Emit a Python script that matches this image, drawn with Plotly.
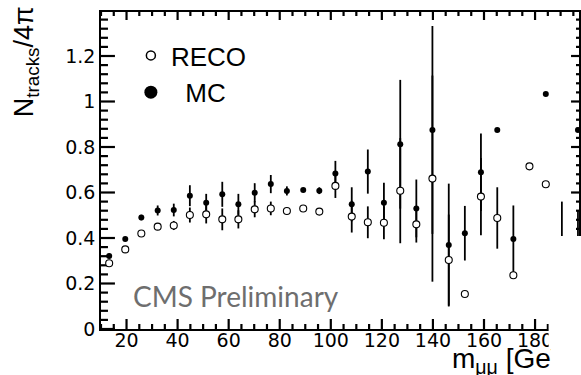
import plotly.graph_objects as go

# ---- data ----
mass = [13.2, 19.5, 25.8, 32.2, 38.5, 44.8, 51.2, 57.5, 63.8, 70.2,
        76.5, 82.8, 89.2, 95.5, 101.8, 108.2, 114.5, 120.8, 127.2, 133.5,
        139.8, 146.2, 152.5, 158.8, 165.2, 171.5, 177.8, 184.2, 190.5, 196.8]

reco = [0.289, 0.350, 0.420, 0.450, 0.455, 0.501, 0.504, 0.482, 0.482, 0.526,
        0.530, 0.519, 0.530, 0.516, 0.629, 0.494, 0.469, 0.467, 0.608, 0.460,
        0.661, 0.303, 0.154, 0.582, 0.488, 0.236, 0.715, 0.636, 0.350, 0.300]
reco_err = [0.008, 0.008, 0.010, 0.015, 0.020, 0.033, 0.040, 0.048, 0.040, 0.035,
            0.030, 0.015, 0.005, 0.012, 0.053, 0.070, 0.070, 0.073, 0.231, 0.080,
            0.453, 0.200, 0.0, 0.170, 0.135, 0.0, 0.0, 0.0, 0.210, 0.220]

mc = [0.321, 0.396, 0.490, 0.521, 0.523, 0.586, 0.555, 0.592, 0.548, 0.599,
      0.637, 0.607, 0.611, 0.608, 0.684, 0.548, 0.692, 0.555, 0.812, 0.530,
      0.875, 0.369, 0.421, 0.689, 0.875, 0.396, None, 1.033, 0.380, 0.875]
mc_err = [0.010, 0.008, 0.012, 0.022, 0.028, 0.046, 0.039, 0.055, 0.046, 0.042,
          0.040, 0.020, 0.008, 0.015, 0.055, 0.075, 0.097, 0.088, 0.283, 0.127,
          0.457, 0.270, 0.120, 0.170, 0.0, 0.147, 0.0, 0.0, 0.0, 0.0]

x_tick_step = 20      # labelled ticks 20 ... 180
x_minor_step = 5
y_tick_step = 0.2     # labelled ticks 0 ... 1.2
y_minor_step = 0.04

x_title = "m<sub>μμ</sub> [GeV]"
y_title = "N<sub>tracks</sub>/4π"
label = "CMS Preliminary"

# ---- layout geometry ----
W, H = 581, 375
L, R, T, B = 101, 0, 12, 46
PW, PH = W - L - R, H - T - B
XPX, YPX = 2.564, 227.5          # pixels per axis unit
X_RANGE = [10, 10 + PW / XPX]
Y_RANGE = [0, PH / YPX]


def px(xp):
    return (xp - L) / PW


def py(yp):
    return 1 - (yp - T) / PH


def frange(start, stop, step):
    vals, k = [], 0
    while start + k * step <= stop + 1e-9:
        vals.append(round(start + k * step, 6))
        k += 1
    return vals


fig = go.Figure()

# ---- frame tick marks (ROOT style, pointing inwards on all four sides) ----
tx, ty = [], []
for v in frange(X_RANGE[0], X_RANGE[1], x_minor_step):
    major = abs(v / x_tick_step - round(v / x_tick_step)) < 1e-6
    lb = (10 if major else 5) / YPX
    lt = (8 if major else 4) / YPX
    tx += [v, v, None, v, v, None]
    ty += [Y_RANGE[0], Y_RANGE[0] + lb, None, Y_RANGE[1], Y_RANGE[1] - lt, None]
for v in frange(Y_RANGE[0], Y_RANGE[1], y_minor_step):
    major = abs(v / y_tick_step - round(v / y_tick_step)) < 1e-6
    ll = (14 if major else 7) / XPX
    lr = (8 if major else 3) / XPX
    tx += [X_RANGE[0], X_RANGE[0] + ll, None, X_RANGE[1], X_RANGE[1] - lr, None]
    ty += [v, v, None, v, v, None]
fig.add_trace(go.Scatter(x=tx, y=ty, mode="lines", showlegend=False,
                         connectgaps=False, hoverinfo="skip",
                         line=dict(color="black", width=2.2)))

fig.add_trace(go.Scatter(
    x=mass, y=mc, mode="markers", showlegend=False, cliponaxis=False,
    marker=dict(symbol="circle", size=6, color="black"),
    error_y=dict(type="data", array=mc_err, visible=True, width=0,
                 thickness=1.8, color="black"),
))
fig.add_trace(go.Scatter(
    x=mass, y=reco, mode="markers", showlegend=False, cliponaxis=False,
    marker=dict(symbol="circle", size=7, color="white",
                line=dict(color="black", width=1.1)),
    error_y=dict(type="data", array=reco_err, visible=True, width=0,
                 thickness=1.8, color="black"),
))
# legend entries
fig.add_trace(go.Scatter(
    x=[None], y=[None], mode="markers", name="RECO",
    marker=dict(symbol="circle", size=9, color="white",
                line=dict(color="black", width=1.5)),
))
fig.add_trace(go.Scatter(
    x=[None], y=[None], mode="markers", name="&nbsp;&nbsp;MC",
    marker=dict(symbol="circle", size=13, color="black"),
))

cover = dict(type="rect", xref="paper", yref="paper", layer="above",
             x0=px(550.5), x1=1.05, y0=-0.3, y1=py(236),
             fillcolor="white", line=dict(width=0))

tickfont = dict(family="DejaVu Sans", size=19, color="black")

fig.update_layout(
    width=W, height=H,
    margin=dict(l=L, r=R, t=T, b=B, pad=0),
    paper_bgcolor="white", plot_bgcolor="white",
    showlegend=True,
    legend=dict(x=px(131), y=py(32), xanchor="left", yanchor="top",
                bgcolor="rgba(0,0,0,0)", borderwidth=0,
                font=dict(family="Liberation Sans", size=26, color="black"),
                itemsizing="trace", tracegroupgap=0),
    xaxis=dict(
        range=X_RANGE, showgrid=False, zeroline=False,
        showline=True, linecolor="black", linewidth=1.5, mirror=True,
        tickmode="linear", tick0=0, dtick=x_tick_step, ticks="",
        tickfont=tickfont, ticklabelstandoff=-7,
    ),
    yaxis=dict(
        range=Y_RANGE, showgrid=False, zeroline=False,
        showline=True, linecolor="black", linewidth=1.5, mirror=True,
        tickmode="linear", tick0=0, dtick=y_tick_step, ticks="",
        tickfont=tickfont,
    ),
    shapes=[cover],
    annotations=[
        dict(text=y_title, xref="paper", yref="paper", x=px(26), y=py(62),
             xanchor="center", yanchor="middle", textangle=-90, showarrow=False,
             font=dict(family="Liberation Sans", size=27, color="black")),
        dict(text=x_title, xref="paper", yref="paper", x=px(451), y=py(360),
             xanchor="left", yanchor="middle", align="left", width=99,
             showarrow=False,
             font=dict(family="Liberation Sans", size=28, color="black")),
        dict(text=label, xref="paper", yref="paper", x=px(131), y=py(296),
             xanchor="left", yanchor="middle", showarrow=False,
             font=dict(family="Lato", size=28, color="#6e6e6e")),
    ],
)

fig.write_html("out.html")
